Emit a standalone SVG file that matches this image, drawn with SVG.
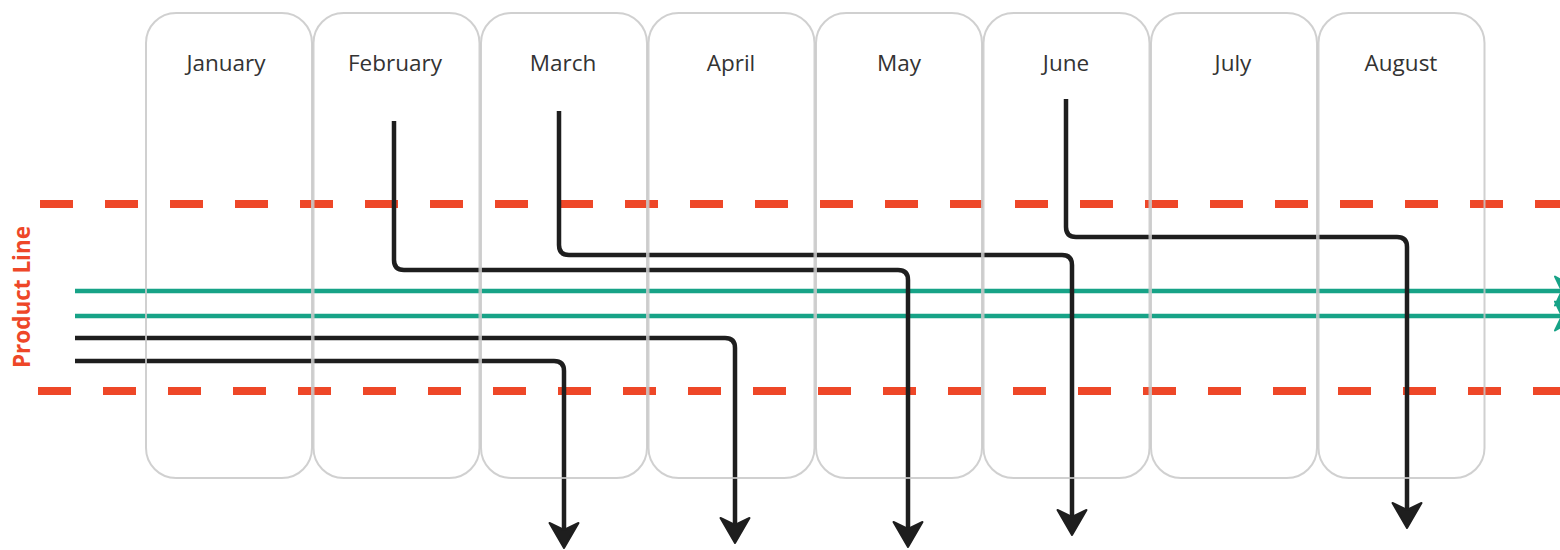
<svg xmlns="http://www.w3.org/2000/svg" width="1560" height="550" viewBox="0 0 1560 550">
<style>
.box{fill:none;stroke:#c8c8c8;stroke-opacity:0.85;stroke-width:2}
.mlabel{font-family:"Open Sans","Liberation Sans",sans-serif;font-size:22.5px;fill:#333;text-anchor:middle}
.dash{stroke:#ee4728;stroke-width:8;stroke-dasharray:33 32;fill:none}
.blk{fill:none;stroke:#1e1e1e;stroke-width:4.5}
.grn{fill:none;stroke:#17a387;stroke-width:4.5}
</style>
<defs>
<marker id="ab" markerUnits="userSpaceOnUse" markerWidth="40" markerHeight="40" viewBox="-10 -20 32 40" refX="0" refY="0" orient="auto" overflow="visible">
<path d="M18,0 L-7,-14.5 L0,0 L-7,14.5 Z" fill="#1e1e1e" stroke="#1e1e1e" stroke-width="2" stroke-linejoin="round"/>
</marker>
<marker id="ag" markerUnits="userSpaceOnUse" markerWidth="40" markerHeight="40" viewBox="-10 -20 32 40" refX="0" refY="0" orient="auto" overflow="visible">
<path d="M18,0 L-7,-14.5 L0,0 L-7,14.5 Z" fill="#17a387" stroke="#17a387" stroke-width="2" stroke-linejoin="round"/>
</marker>
</defs>
<rect width="1560" height="550" fill="#fff"/>
<g id="swimlane">
<line class="dash" x1="40" y1="204" x2="1560" y2="204"/>
<line class="dash" x1="38" y1="391" x2="1560" y2="391"/>
<text x="30" y="297" transform="rotate(-90 30 297)" font-family="'Open Sans','Liberation Sans',sans-serif" font-weight="bold" font-size="22.5" fill="#ee4728" text-anchor="middle">Product Line</text>
</g>
<g id="connectors">
<path class="grn" d="M75,291 H1562" marker-end="url(#ag)"/>
<path class="grn" d="M75,316 H1562" marker-end="url(#ag)"/>
<path class="blk" d="M75,338 H725 Q735,338 735,348 V525" marker-end="url(#ab)"/>
<path class="blk" d="M75,361 H554 Q564,361 564,371 V530" marker-end="url(#ab)"/>
<path class="blk" d="M394,121 V260 Q394,270 404,270 H898 Q908,270 908,280 V529" marker-end="url(#ab)"/>
<path class="blk" d="M559,111 V245 Q559,255 569,255 H1062 Q1072,255 1072,265 V517" marker-end="url(#ab)"/>
<path class="blk" d="M1066,99 V227 Q1066,237 1076,237 H1397 Q1407,237 1407,247 V510" marker-end="url(#ab)"/>
</g>
<g id="month-january"><rect class="box" x="146" y="13" width="166" height="465" rx="30"/><text class="mlabel" x="226" y="71">January</text></g>
<g id="month-february"><rect class="box" x="313.5" y="13" width="166" height="465" rx="30"/><text class="mlabel" x="395" y="71">February</text></g>
<g id="month-march"><rect class="box" x="481" y="13" width="166" height="465" rx="30"/><text class="mlabel" x="563" y="71">March</text></g>
<g id="month-april"><rect class="box" x="648.5" y="13" width="166" height="465" rx="30"/><text class="mlabel" x="731" y="71">April</text></g>
<g id="month-may"><rect class="box" x="816" y="13" width="166" height="465" rx="30"/><text class="mlabel" x="899" y="71">May</text></g>
<g id="month-june"><rect class="box" x="983.5" y="13" width="166" height="465" rx="30"/><text class="mlabel" x="1066" y="71">June</text></g>
<g id="month-july"><rect class="box" x="1151" y="13" width="166" height="465" rx="30"/><text class="mlabel" x="1233" y="71">July</text></g>
<g id="month-august"><rect class="box" x="1318.5" y="13" width="166" height="465" rx="30"/><text class="mlabel" x="1401" y="71">August</text></g>
</svg>
